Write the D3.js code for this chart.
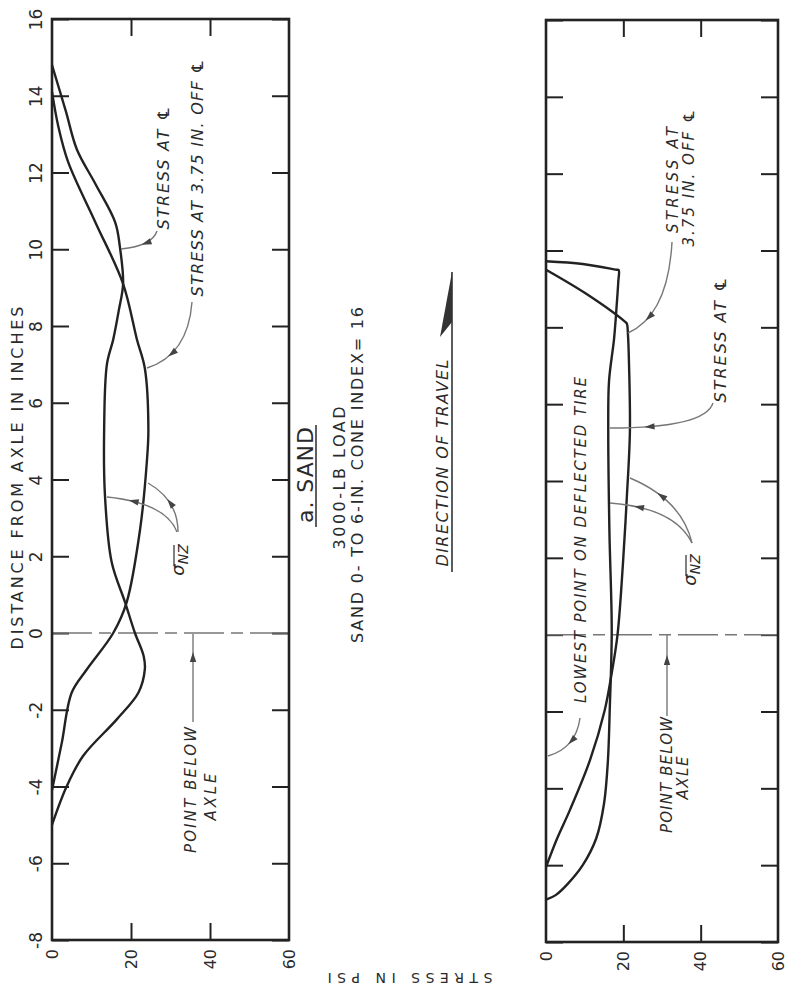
<!DOCTYPE html>
<html>
<head>
<meta charset="utf-8">
<script src="https://cdn.jsdelivr.net/npm/d3@7"></script>
<style>
  html, body { margin: 0; padding: 0; background: #fff; }
  svg { display: block; background: #fff; }
  text { font-family: "DejaVu Sans", sans-serif; fill: #2a2a2a; }
</style>
</head>
<body>
<svg id="chart" width="786" height="1008"></svg>
<script>
// tick values
const distTicks = d3.range(-8, 17, 2);
const stressTicks = [0, 20, 40, 60];
const innerStress = [20, 40];

// left panel (a. sand): [stress psi, distance from axle in.]
const leftCL = [[0, 14.8], [3.5, 13.6], [6.3, 12.6], [11, 11.7], [16, 10.7], [17.2, 10.05], [18, 9.1],
    [16.9, 8.4], [15.5, 7.65], [13.9, 7.0], [13.2, 5.3], [13.4, 3.6], [15.1, 1.85], [18.5, 0.8], [21, 0],
    [23.2, -0.6], [23.5, -0.95], [21.9, -1.55], [16.4, -2.25], [7.9, -3.2], [3.7, -4.0], [0, -5.0]];
const leftOff = [[0, 14.1], [1.6, 13.2], [4.1, 12.27], [11, 10.7], [18, 9.1], [21.5, 7.65], [23.5, 6.9],
    [24.4, 5.3], [24, 4.45], [22.3, 2.7], [18.9, 0.8], [15.5, 0], [8.8, -0.95], [5, -1.55], [2.5, -2.85],
    [0.8, -3.7], [0, -4.1]];

// right panel
const rightCL = [[0, 9.72], [9.5, 9.65], [18.2, 9.5], [18.8, 9.49], [18.7, 9.2], [18.3, 8.6], [17.6, 7.7],
    [16.3, 6.6], [16.1, 5.3], [16.4, 2.7], [17.0, 0.1], [16.5, -1.9], [16.0, -3.3], [15.0, -4.4],
    [13.0, -5.3], [9.5, -6.0], [5.5, -6.5], [2.5, -6.78], [0, -6.9]];
const rightOff = [[0, 9.5], [10.3, 8.88], [20.4, 8.15], [20.9, 8.1], [21.2, 7.8], [21.4, 7.3], [21.7, 5.3],
    [20.9, 3.57], [19.9, 1.85], [18.5, 0], [17.0, -1.0], [15.2, -1.96], [11.4, -3.26], [6.2, -4.56],
    [2.9, -5.3], [0, -6.05]];

const svg = d3.select('#chart');
const ink = '#222';

const panels = [
    {x0: 52, x1: 289, y0: 19, y1: 940, yLabels: true, curves: [leftCL, leftOff]},
    {x0: 546, x1: 778, y0: 20, y1: 942, yLabels: false, curves: [rightCL, rightOff]}
];

panels.forEach(p => {
    let x = d3.scaleLinear().domain([0, 60]).range([p.x0, p.x1]);
    let y = d3.scaleLinear().domain([-8, 16]).range([p.y1, p.y0]);
    let g = svg.append('g');

    // inward ticks on all four sides
    let tickAxes = [
        [d3.axisLeft(y).tickValues(distTicks), `translate(${p.x0},0)`],
        [d3.axisRight(y).tickValues(distTicks), `translate(${p.x1},0)`],
        [d3.axisTop(x).tickValues(innerStress), `translate(0,${p.y0})`],
        [d3.axisBottom(x).tickValues(innerStress), `translate(0,${p.y1})`]
    ];
    tickAxes.forEach(([ax, tr]) => {
        let a = g.append('g').attr('transform', tr).call(ax.tickSize(-17).tickFormat(''));
        a.select('.domain').remove();
        a.selectAll('line').attr('stroke', ink).attr('stroke-width', 2);
    });

    // stress labels, rotated
    let bx = g.append('g').attr('transform', `translate(0,${p.y1})`)
        .call(d3.axisBottom(x).tickValues(stressTicks).tickSize(0).tickFormat(d => String(d)));
    bx.select('.domain').remove();
    bx.selectAll('text')
        .attr('x', -9).attr('y', 5).attr('dy', null)
        .attr('transform', 'rotate(-90)')
        .attr('text-anchor', 'end')
        .style('font-size', '16px');

    if (p.yLabels) {
        let ly = g.append('g').attr('transform', `translate(${p.x0},0)`)
            .call(d3.axisLeft(y).tickValues(distTicks).tickSize(0).tickFormat(d => String(d)));
        ly.select('.domain').remove();
        ly.selectAll('text')
            .attr('x', 0).attr('y', -10).attr('dy', null)
            .attr('transform', 'rotate(-90)')
            .attr('text-anchor', 'middle')
            .style('font-size', '17px');
    }

    // dash-dot line at the axle
    g.append('line')
        .attr('x1', p.x0).attr('x2', p.x1)
        .attr('y1', y(0)).attr('y2', y(0))
        .attr('stroke', '#777').attr('stroke-width', 1.5)
        .attr('stroke-dasharray', '40,7,12,7');

    let line = d3.line()
        .x(d => x(d[0]))
        .y(d => y(d[1]))
        .curve(d3.curveCatmullRom.alpha(0.5));
    g.selectAll('path.curve')
        .data(p.curves)
        .enter()
        .append('path')
        .attr('class', 'curve')
        .attr('d', line)
        .attr('fill', 'none')
        .attr('stroke', ink)
        .attr('stroke-width', 2.4)
        .attr('stroke-linejoin', 'round');

    g.append('rect')
        .attr('x', p.x0).attr('y', p.y0)
        .attr('width', p.x1 - p.x0).attr('height', p.y1 - p.y0)
        .attr('fill', 'none').attr('stroke', ink).attr('stroke-width', 2.6);
});

// text rotated to read bottom-to-top, centred on (cx, cy)
function vtext(cx, cy, str, fs, len, italic) {
    let t = svg.append('text')
        .attr('transform', `translate(${cx + 0.36 * fs},${cy}) rotate(-90)`)
        .attr('text-anchor', 'middle')
        .style('font-size', fs + 'px')
        .text(str);
    if (len) t.attr('textLength', len).attr('lengthAdjust', 'spacing');
    if (italic) t.style('font-style', 'italic');
    return t;
}

function arrowHead(px, py, ang) {
    let L = 10, W = 3.2;
    let bx = px - L * Math.cos(ang), by = py - L * Math.sin(ang);
    let nx = -Math.sin(ang) * W, ny = Math.cos(ang) * W;
    svg.append('path')
        .attr('d', `M${px},${py}L${bx + nx},${by + ny}L${bx - nx},${by - ny}Z`)
        .attr('fill', '#444');
}

function leader(p0, p1, p2, t) {
    svg.append('path')
        .attr('d', `M${p0}Q${p1} ${p2}`)
        .attr('fill', 'none').attr('stroke', '#777').attr('stroke-width', 1.4);
    let u = 1 - t;
    let px = u * u * p0[0] + 2 * u * t * p1[0] + t * t * p2[0];
    let py = u * u * p0[1] + 2 * u * t * p1[1] + t * t * p2[1];
    let dx = 2 * u * (p1[0] - p0[0]) + 2 * t * (p2[0] - p1[0]);
    let dy = 2 * u * (p1[1] - p0[1]) + 2 * t * (p2[1] - p1[1]);
    arrowHead(px, py, Math.atan2(dy, dx));
}

function vleader(x, yTop, yBot, yArrow) {
    svg.append('line')
        .attr('x1', x).attr('x2', x).attr('y1', yTop).attr('y2', yBot)
        .attr('stroke', '#777').attr('stroke-width', 1.4);
    arrowHead(x, yArrow, -Math.PI / 2);
}

function sigmaNZ(cx, cy) {
    let g = svg.append('g').attr('transform', `translate(${cx},${cy}) rotate(-90)`);
    let t = g.append('text').attr('text-anchor', 'middle').attr('y', 4)
        .style('font-size', '18px').style('font-style', 'italic');
    t.append('tspan').text('σ');
    t.append('tspan').attr('dy', 4).style('font-size', '14px').text('NZ');
    g.append('line')
        .attr('x1', -6).attr('x2', 15).attr('y1', -6).attr('y2', -6)
        .attr('stroke', '#2a2a2a').attr('stroke-width', 1.2);
}

// axis titles
vtext(17, 478, 'DISTANCE FROM AXLE IN INCHES', 16, 343);
svg.append('text')
    .attr('transform', 'translate(410,973) rotate(180)')
    .attr('text-anchor', 'middle')
    .attr('textLength', 165).attr('lengthAdjust', 'spacing')
    .style('font-size', '14px')
    .text('STRESS IN PSI');

// centre captions
vtext(305, 475, 'a. SAND', 22, 96);
svg.append('line').attr('x1', 316).attr('x2', 316).attr('y1', 425).attr('y2', 527)
    .attr('stroke', '#2a2a2a').attr('stroke-width', 1.5);
vtext(339, 478, '3000-LB LOAD', 16, 143);
vtext(357, 475, 'SAND 0- TO 6-IN. CONE INDEX= 16', 16, 336);
vtext(442, 463, 'DIRECTION OF TRAVEL', 16, 207, true);
svg.append('line').attr('x1', 452).attr('x2', 452).attr('y1', 272).attr('y2', 572)
    .attr('stroke', '#333').attr('stroke-width', 1.6);
svg.append('path').attr('d', 'M452,272L440,337L452,322Z').attr('fill', '#333');

// left panel notes
vtext(163, 168, 'STRESS AT ℄', 16, 123, true);
leader([157, 231], [152, 246], [121, 249], 0.6);
vtext(197, 178, 'STRESS AT 3.75 IN. OFF ℄', 16, 237, true);
leader([192, 302], [188, 355], [147, 368], 0.7);
sigmaNZ(180, 560);
leader([177, 532], [166, 503], [107, 497], 0.8);
leader([178, 532], [178, 500], [148, 483], 0.6);
vtext(191, 790, 'POINT BELOW', 15, 126, true);
vtext(211, 797, 'AXLE', 15, 47, true);
vleader(193, 634, 722, 652);

// right panel notes
vtext(673, 180, 'STRESS AT', 15, 106, true);
vtext(689, 178, '3.75 IN. OFF ℄', 15, 137, true);
leader([672, 242], [668, 315], [628, 333], 0.75);
vtext(720, 340, 'STRESS AT ℄', 16, 125, true);
leader([713, 403], [705, 428], [610, 428], 0.8);
vtext(581, 540, 'LOWEST POINT ON DEFLECTED TIRE', 15, 326, true);
leader([580, 718], [576, 748], [548, 756], 0.55);
sigmaNZ(692, 570);
leader([692, 543], [682, 500], [630, 478], 0.7);
leader([692, 543], [675, 508], [610, 503], 0.8);
vtext(667, 775, 'POINT BELOW', 15, 116, true);
vtext(683, 778, 'AXLE', 15, 43, true);
vleader(667, 635, 716, 655);
</script>
</body>
</html>
